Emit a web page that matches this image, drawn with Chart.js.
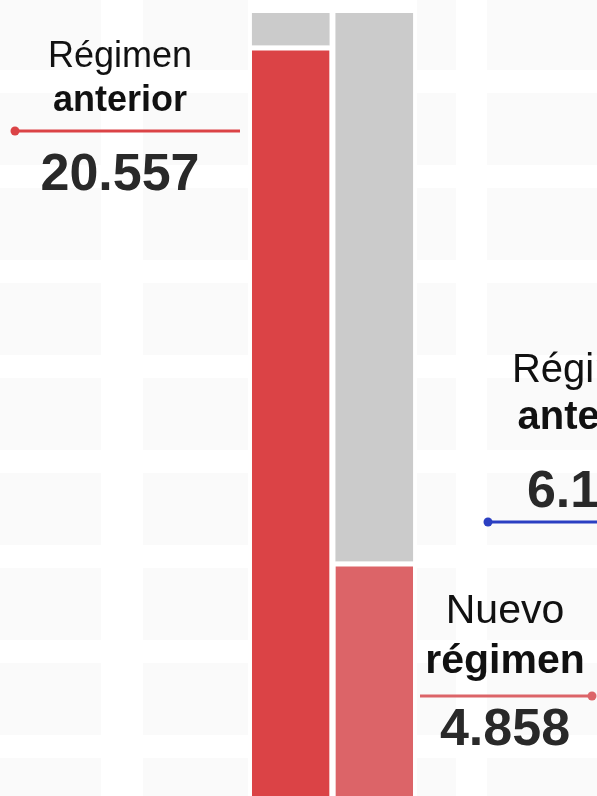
<!DOCTYPE html>
<html lang="es">
<head>
<meta charset="utf-8">
<title>Régimen anterior / Nuevo régimen</title>
<script src="https://cdn.jsdelivr.net/npm/chart.js@4"></script>
<style>
  html, body { margin: 0; padding: 0; background: #fff; }
  /* fondo de baldosas muy claras, como en la infografía */
  #wrap {
    position: relative;
    width: 597px;
    height: 796px;
    background-color: #fafafa;
    background-image:
      linear-gradient(to right, transparent 101px, #fff 101px, #fff 143px, transparent 143px,
                      transparent 248px, #fff 248px, #fff 417px, transparent 417px,
                      transparent 456px, #fff 456px, #fff 487px, transparent 487px),
      repeating-linear-gradient(to bottom, transparent 0px, transparent 70px, #fff 70px, #fff 93px,
                                transparent 93px, transparent 95px);
  }
</style>
</head>
<body>
<div id="wrap"><canvas id="chart"></canvas></div>
<script>
// datos
const categorias = ["Régimen anterior", "Nuevo régimen"];
const valoresRojo = [20557, 4858];      // valores rotulados
const valoresGris = [988, 16687];       // parte gris sobre cada barra
const coloresRojo = ["#db4346", "#dc6468"];
const colorGris = "#cbcbcb";
const colorAzul = "#2b3fc2";
const valorCortado = 6148;              // "Régimen anterior" de la columna siguiente (cortado)

// escala vertical del recorte
const Y_MIN = -2276;
const Y_MAX = 21941;

// 20557 -> "20.557"
function fmt(n) {
  return String(n).replace(/\B(?=(\d{3})+(?!\d))/g, ".");
}

const FONT = "'Liberation Sans', Arial, Helvetica, sans-serif";

// rótulos y líneas guía
const notas = [
  {
    x: 120,
    lines: [
      { text: "Régimen", bold: false, size: 36, y: 67 },
      { text: "anterior", bold: true, size: 36, y: 111 },
      { text: fmt(valoresRojo[0]), bold: true, size: 52, y: 190, color: "#292929" }
    ],
    leader: { y: 131, x1: 15, x2: 240, dot: 15, color: coloresRojo[0] }
  },
  {
    x: 592,
    lines: [
      { text: "Régimen", bold: false, size: 40, y: 382 },
      { text: "anterior", bold: true, size: 40, y: 429 }
    ],
    leader: { y: 522, x1: 488, x2: 640, dot: 488, color: colorAzul }
  },
  {
    x: 592,
    lines: [
      { text: fmt(valorCortado), bold: true, size: 52, y: 507, color: "#292929" }
    ]
  },
  {
    x: 505,
    lines: [
      { text: "Nuevo", bold: false, size: 41, y: 623 },
      { text: "régimen", bold: true, size: 41, y: 673 },
      { text: fmt(valoresRojo[1]), bold: true, size: 52, y: 745, color: "#292929" }
    ],
    leader: { y: 696, x1: 420, x2: 592, dot: 592, color: coloresRojo[1] }
  }
];

const notasPlugin = {
  id: "notas",
  afterDatasetsDraw(chart) {
    const ctx = chart.ctx;
    ctx.save();
    for (const n of notas) {
      const l = n.leader;
      if (l) {
        ctx.strokeStyle = l.color;
        ctx.lineWidth = 3;
        ctx.beginPath();
        ctx.moveTo(l.x1, l.y);
        ctx.lineTo(l.x2, l.y);
        ctx.stroke();
        ctx.fillStyle = l.color;
        ctx.beginPath();
        ctx.arc(l.dot, l.y, 4.5, 0, Math.PI * 2);
        ctx.fill();
      }

      ctx.textAlign = "center";
      ctx.textBaseline = "alphabetic";
      for (const t of n.lines) {
        ctx.font = (t.bold ? "bold " : "") + t.size + "px " + FONT;
        ctx.fillStyle = t.color || "#111";
        ctx.fillText(t.text, n.x, t.y);
      }
    }
    ctx.restore();
  }
};

const chart = new Chart(document.getElementById("chart"), {
  type: "bar",
  data: {
    labels: categorias,
    datasets: [
      {
        label: "rojo",
        data: valoresRojo,
        backgroundColor: coloresRojo,
        borderColor: "#fff",
        borderWidth: { top: 5, left: 0, right: 0, bottom: 0 },
        borderSkipped: false,
        base: Y_MIN
      },
      {
        label: "gris",
        data: valoresGris,
        backgroundColor: colorGris,
        borderWidth: 0
      }
    ]
  },
  options: {
    responsive: true,
    maintainAspectRatio: false,
    animation: false,
    layout: { padding: { left: 249, right: 181, top: 0, bottom: 0 } },
    datasets: {
      bar: { barPercentage: 0.93, categoryPercentage: 1.0 }
    },
    scales: {
      x: { stacked: true, display: false },
      y: { stacked: true, display: false, min: Y_MIN, max: Y_MAX }
    },
    plugins: {
      legend: { display: false },
      tooltip: { enabled: false }
    }
  },
  plugins: [notasPlugin]
});
</script>
</body>
</html>
